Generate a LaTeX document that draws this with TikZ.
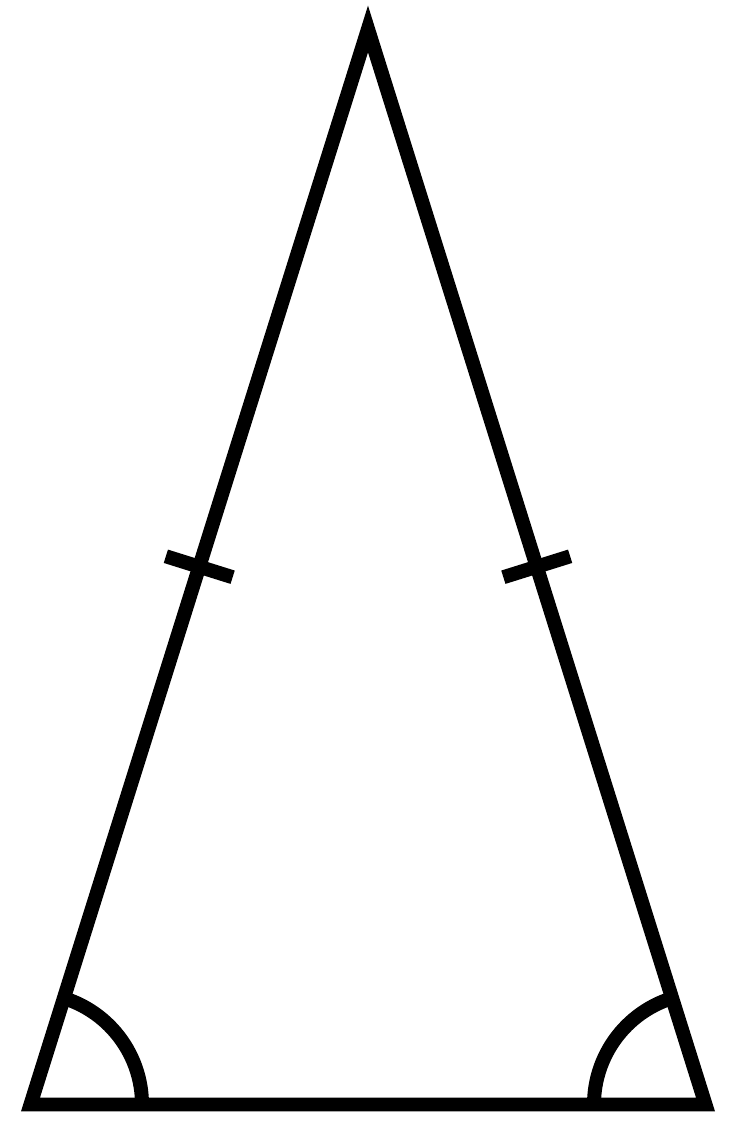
\documentclass[tikz,border=0pt]{standalone}
\usetikzlibrary{calc}
\begin{document}
\begin{tikzpicture}[x=0.02cm,y=0.02cm,
	side/.style={line width=0.28cm,line join=miter},
	tick/.style={line width=0.28cm,line cap=butt},
	anglemark/.style={line width=0.28cm}]
	\useasboundingbox (0,0) rectangle (736,1134);
	%Corners of the triangle
	\coordinate (tip) at (368,1105);
	\coordinate (left) at (30.5,29.5);
	\coordinate (right) at (705.5,29.5);
	%Outer hull
	\draw[side] (left) -- (tip) -- (right) -- cycle;
	%Equal sides marked at their middle
	\coordinate (midL) at ($(left)!0.5!(tip)$);
	\coordinate (midR) at ($(right)!0.5!(tip)$);
	\draw[tick] ($(midL)!0.7cm!90:(tip)$) -- ($(midL)!0.7cm!-90:(tip)$);
	\draw[tick] ($(midR)!0.7cm!90:(tip)$) -- ($(midR)!0.7cm!-90:(tip)$);
	%Base angles
	\draw[anglemark] (left) ++(111.5,0) arc[start angle=0,end angle=72.6,radius=2.23cm];
	\draw[anglemark] (right) ++(-111.5,0) arc[start angle=180,end angle=107.4,radius=2.23cm];
\end{tikzpicture}
\end{document}
